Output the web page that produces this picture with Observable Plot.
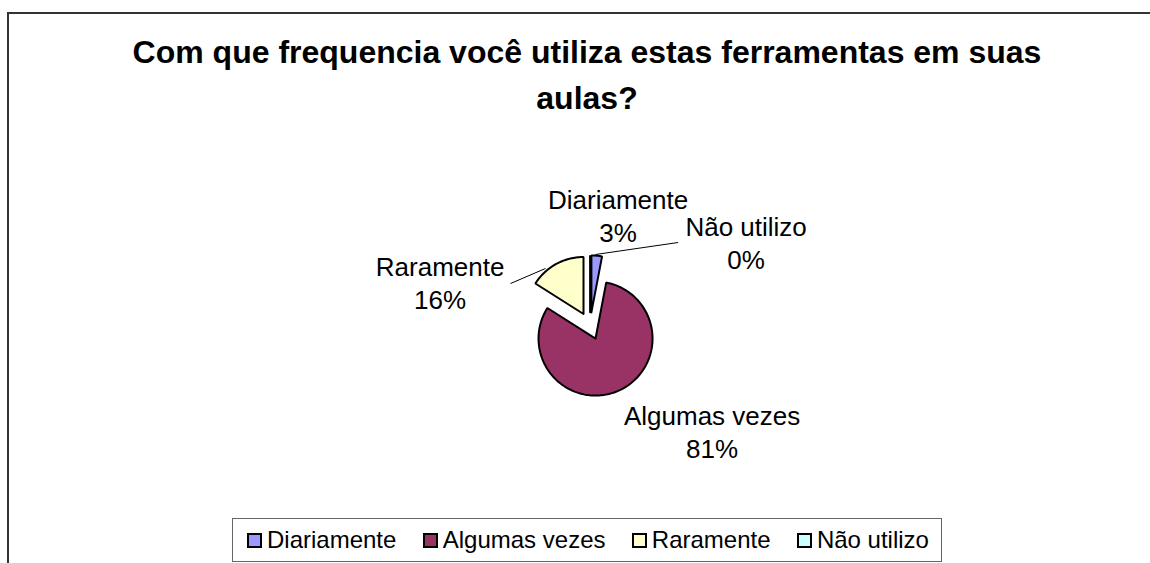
<!DOCTYPE html>
<html>
<head>
<meta charset="utf-8">
<script src="https://cdn.jsdelivr.net/npm/d3@7"></script>
<script src="https://cdn.jsdelivr.net/npm/@observablehq/plot@0.6"></script>
<style>
  html, body { margin: 0; padding: 0; background: #fff; }
  body { width: 1150px; height: 563px; overflow: hidden; position: relative; font-family: "Liberation Sans", Arial, sans-serif; color: #000; }
  #frame { position: absolute; left: 7px; top: 12px; width: 1200px; height: 600px; border-left: 2px solid #333; border-top: 2px solid #333; }
  #title { position: absolute; left: 87px; width: 1000px; top: 29px; text-align: center; font-weight: bold; font-size: 32px; line-height: 46px; }
  #chart { position: absolute; left: 0; top: 125px; }
  #legend { position: absolute; left: 232px; top: 518px; border: 1px solid #666;
            display: flex; align-items: center; justify-content: space-between; padding: 0 12px 0 14px; box-sizing: border-box; width: 710px; height: 44px; }
  .item { display: flex; align-items: center; font-size: 24px; white-space: nowrap; }
  .sw { width: 11px; height: 11px; border: 2px solid #000; margin-right: 5px; }
</style>
</head>
<body>
<div id="frame"></div>
<div id="title"></div>
<div id="chart"></div>
<div id="legend"></div>
<script>
// ---- data ----
const categories = ["Diariamente", "Algumas vezes", "Raramente", "Não utilizo"];
const percents = [3, 81, 16, 0];
const colors = ["#9999FF", "#993366", "#FFFFCC", "#CCFFFF"];
const titleLines = ["Com que frequencia você utiliza estas ferramentas em suas", "aulas?"];

// ---- layout (styling, not data) ----
const W = 1150, H = 390;
const cx = 589.6, cy = 200.5, unit = 57;   // pie centre in svg px, radius in px
const explode = 0.24;                       // explosion as a fraction of the radius
// label block centres, in px relative to pie centre
const labelOffset = {
  "Diariamente": [28, -111],
  "Algumas vezes": [122, 105],
  "Raramente": [-150, -44],
  "Não utilizo": [156, -84]
};
// leader lines, px relative to pie centre
const leaders = [
  {x1: 88, y1: -83.5, x2: 5.4, y2: -71.5},
  {x1: -79.6, y1: -42.5, x2: -44.6, y2: -57.5}
];

document.getElementById("title").innerHTML = titleLines.join("<br>");

const rows = categories.map((c, i) => ({category: c, value: percents[i], color: colors[i]}));
const arcs = d3.pie().sort(null).value(d => d.value)(rows);

const slices = arcs.map(a => {
  const mid = (a.startAngle + a.endAngle) / 2;
  const ox = explode * Math.sin(mid), oy = explode * Math.cos(mid);
  const n = Math.max(2, Math.ceil((a.endAngle - a.startAngle) / (Math.PI / 120)));
  const pts = [{x: ox, y: oy}];
  for (let i = 0; i <= n; i++) {
    const t = a.startAngle + (a.endAngle - a.startAngle) * i / n;
    pts.push({x: ox + Math.sin(t), y: oy + Math.cos(t)});
  }
  pts.push({x: ox, y: oy});
  return {data: a.data, pts};
});

const px2x = v => v / unit, px2y = v => -v / unit;
const labels = rows.map(r => ({
  x: px2x(labelOffset[r.category][0]),
  y: px2y(labelOffset[r.category][1]),
  text: r.category + "\n" + r.value + "%"
}));
const leaderRows = leaders.map(l => ({x1: px2x(l.x1), y1: px2y(l.y1), x2: px2x(l.x2), y2: px2y(l.y2)}));

const plot = Plot.plot({
  width: W, height: H,
  margin: 0,
  x: {domain: [-cx / unit, (W - cx) / unit], axis: null},
  y: {domain: [-(H - cy) / unit, cy / unit], axis: null},
  style: {fontFamily: '"Liberation Sans", Arial, sans-serif', background: "transparent", overflow: "visible"},
  marks: [
    ...slices.map(s => Plot.line(s.pts, {x: "x", y: "y", fill: s.data.color, stroke: "#000", strokeWidth: 2, curve: "linear", strokeLinejoin: "miter"})),
    Plot.link(leaderRows, {x1: "x1", y1: "y1", x2: "x2", y2: "y2", stroke: "#000", strokeWidth: 1}),
    Plot.text(labels, {x: "x", y: "y", text: "text", fontSize: 26, lineHeight: 1.28, textAnchor: "middle", fill: "#000"})
  ]
});
document.getElementById("chart").appendChild(plot);

// legend
const legend = d3.select("#legend");
rows.forEach(r => {
  const it = legend.append("div").attr("class", "item");
  it.append("div").attr("class", "sw").style("background", r.color);
  it.append("span").text(r.category);
});
</script>
</body>
</html>
